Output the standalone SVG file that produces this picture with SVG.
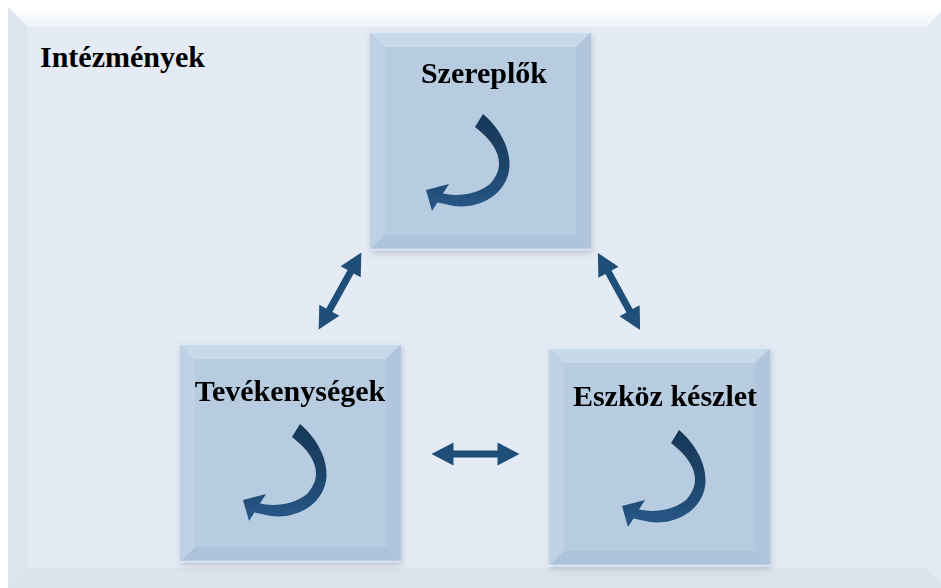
<svg xmlns="http://www.w3.org/2000/svg" xmlns:xlink="http://www.w3.org/1999/xlink" width="941" height="588" viewBox="0 0 941 588">
  <style>
    .label { font-family: "Liberation Serif", "Times New Roman", serif; font-weight: bold; fill: #000; }
    .title { font-size: 30px; }
    .node-label { font-size: 30px; text-anchor: middle; }
    .face { fill: #b8cce1; }
    .bv-top { fill: #c8d9ea; }
    .bv-left { fill: #bfd2e5; }
    .bv-right { fill: #b1c6dc; }
    .bv-bottom { fill: #aec3da; }
    .edge-hi { stroke: #dce8f5; stroke-width: 1.5; fill: none; }
    .curl { fill: url(#curlGrad); }
    .dbl { fill: #1f4e79; }
  </style>
  <defs>
    <linearGradient id="curlGrad" x1="0" y1="0" x2="0" y2="1">
      <stop offset="0" stop-color="#173857"/>
      <stop offset="0.5" stop-color="#1d4468"/>
      <stop offset="1" stop-color="#285889"/>
    </linearGradient>
    <linearGradient id="outerTop" x1="0" y1="0" x2="0" y2="1">
      <stop offset="0" stop-color="#ffffff"/>
      <stop offset="1" stop-color="#eef3f9"/>
    </linearGradient>
    <filter id="shadow" x="-10%" y="-10%" width="125%" height="125%">
      <feDropShadow dx="1" dy="3" stdDeviation="3" flood-color="#4a5f75" flood-opacity="0.28"/>
    </filter>
    <!-- curved ribbon arrow shown inside each box -->
    <path id="curl" class="curl" d="M113,82 C138,103 150,138 128,160 C116,172 98,176 84,174 L67.5,170.5 L62,179 L56,158 L79,152 L73,161.5 C88,165 108,162 120,152 C133,138 135,118 105,95 Z"/>
    <!-- double-headed connector, centred on the origin -->
    <path id="dblArrow" class="dbl" d="M-44,0 L-22,-11.5 L-22,-3.5 L22,-3.5 L22,-11.5 L44,0 L22,11.5 L22,3.5 L-22,3.5 L-22,11.5 Z"/>
    <!-- bevelled square used for every node -->
    <g id="bevelBox">
      <rect class="face" width="221" height="218"/>
      <polygon class="bv-top" points="0,0 221,0 206,15 15,15"/>
      <polygon class="bv-left" points="0,0 15,15 15,203 0,218"/>
      <polygon class="bv-right" points="221,0 221,218 206,203 206,15"/>
      <polygon class="bv-bottom" points="0,218 15,203 206,203 221,218"/>
      <line class="edge-hi" x1="0" y1="0.5" x2="221" y2="0.5"/>
      <line class="edge-hi" x1="0" y1="217.5" x2="221" y2="217.5"/>
    </g>
  </defs>

  <!-- outer frame: Intézmények -->
  <g id="intezmenyek">
    <rect x="0" y="0" width="941" height="588" fill="#ffffff"/>
    <rect x="8" y="7" width="940" height="590" fill="#e4ebf4"/>
    <polygon points="8,7 948,7 928,27 28,27" fill="url(#outerTop)"/>
    <polygon points="8,7 28,27 28,568 8,588" fill="#dde5ef"/>
    <polygon points="8,588 28,568 926,568 946,588" fill="#dce3ec"/>
    <polygon points="946,7 926,27 926,568 946,588" fill="#e3eaf3"/>
    <text class="label title" x="40" y="67">Intézmények</text>
  </g>

  <!-- nodes -->
  <g id="node-szereplok" transform="translate(370,32)" filter="url(#shadow)">
    <use xlink:href="#bevelBox"/>
    <text class="label node-label" x="114" y="51">Szereplők</text>
    <use xlink:href="#curl"/>
  </g>

  <g id="node-tevekenysegek" transform="translate(180,344)" filter="url(#shadow)">
    <use xlink:href="#bevelBox"/>
    <text class="label node-label" x="110" y="57">Tevékenységek</text>
    <use xlink:href="#curl" transform="translate(7,-2)"/>
  </g>

  <g id="node-eszkozkeszlet" transform="translate(549,348)" filter="url(#shadow)">
    <use xlink:href="#bevelBox"/>
    <text class="label node-label" x="116" y="58">Eszköz készlet</text>
    <use xlink:href="#curl" transform="translate(17,0)"/>
  </g>

  <!-- connectors -->
  <g id="connectors">
    <use xlink:href="#dblArrow" transform="translate(340,291) rotate(-61)"/>
    <use xlink:href="#dblArrow" transform="translate(619,291.5) rotate(61.3)"/>
    <use xlink:href="#dblArrow" transform="translate(475.5,454)"/>
  </g>
</svg>
